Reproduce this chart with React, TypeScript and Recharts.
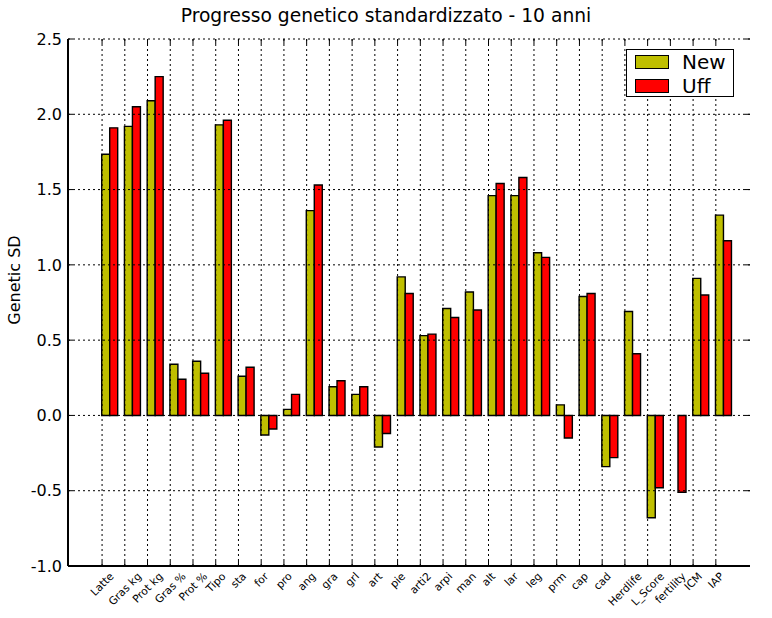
import React from 'react';
import { BarChart, Bar, XAxis, YAxis } from 'recharts';

const categories = [
  'Latte', 'Gras kg', 'Prot kg', 'Gras %', 'Prot %', 'Tipo', 'sta', 'for', 'pro', 'ang',
  'gra', 'grl', 'art', 'pie', 'arti2', 'arpi', 'man', 'alt', 'lar', 'leg',
  'prm', 'cap', 'cad', 'Herdlife', 'L_Score', 'fertility', 'ICM', 'IAP',
];

const newValues = [
  1.735, 1.92, 2.09, 0.34, 0.36, 1.93, 0.26, -0.13, 0.04, 1.36,
  0.19, 0.14, -0.21, 0.92, 0.53, 0.71, 0.82, 1.46, 1.46, 1.08,
  0.07, 0.79, -0.34, 0.69, -0.68, 0, 0.91, 1.33,
];

const uffValues = [
  1.91, 2.05, 2.25, 0.24, 0.28, 1.96, 0.32, -0.09, 0.14, 1.53,
  0.23, 0.19, -0.12, 0.81, 0.54, 0.65, 0.70, 1.54, 1.58, 1.05,
  -0.15, 0.81, -0.28, 0.41, -0.48, -0.51, 0.80, 1.16,
];

const yTicks = [-1.0, -0.5, 0.0, 0.5, 1.0, 1.5, 2.0, 2.5];

const data = categories.map((name, i) => ({ name, New: newValues[i], Uff: uffValues[i] }));

const W = 772;
const H = 618;
const PLOT_LEFT = 68;
const PLOT_RIGHT = 750;
const PLOT_TOP = 39;
const PLOT_BOTTOM = 566;
const BAR_SIZE = 8;
const FONT = 'DejaVu Sans, sans-serif';
const OLIVE = '#BFBF00';
const RED = '#FF0000';

let ctx: CanvasRenderingContext2D | null = null;
const measure = (text: string, size: number) => {
  if (!ctx) ctx = document.createElement('canvas').getContext('2d');
  if (!ctx) return text.length * size * 0.6;
  ctx.font = `${size}px DejaVu Sans`;
  return ctx.measureText(text).width;
};

const XTick = (props: any) => {
  const { x, payload } = props;
  const tx = x - BAR_SIZE;
  const size = 10.7;
  const L = measure(payload.value, size);
  const h = size * 1.15;
  const cy = PLOT_BOTTOM + 4 + (L + h) / (2 * Math.SQRT2);
  return (
    <g>
      <line x1={tx} x2={tx} y1={PLOT_TOP} y2={PLOT_BOTTOM} stroke="#000" strokeWidth={1} strokeDasharray="2 3" />
      <line x1={tx} x2={tx} y1={PLOT_BOTTOM} y2={PLOT_BOTTOM - 5} stroke="#000" strokeWidth={1} />
      <line x1={tx} x2={tx} y1={PLOT_TOP} y2={PLOT_TOP + 5} stroke="#000" strokeWidth={1} />
      <text
        x={tx}
        y={cy}
        dy="0.35em"
        textAnchor="middle"
        fontSize={size}
        fontFamily={FONT}
        fill="#000"
        transform={`rotate(-45 ${tx} ${cy})`}
      >
        {payload.value}
      </text>
    </g>
  );
};

const YTick = (props: any) => {
  const { y, payload } = props;
  return (
    <g>
      <line x1={PLOT_LEFT} x2={PLOT_RIGHT} y1={y} y2={y} stroke="#000" strokeWidth={1} strokeDasharray="2 3" />
      <line x1={PLOT_LEFT} x2={PLOT_LEFT + 5} y1={y} y2={y} stroke="#000" strokeWidth={1} />
      <line x1={PLOT_RIGHT} x2={PLOT_RIGHT - 5} y1={y} y2={y} stroke="#000" strokeWidth={1} />
      <text x={PLOT_LEFT - 6} y={y} dy="0.36em" textAnchor="end" fontSize={16} fontFamily={FONT} fill="#000">
        {Number(payload.value).toFixed(1)}
      </text>
    </g>
  );
};

const LegendBox = () => (
  <div
    style={{
      position: 'absolute',
      left: 626,
      top: 49,
      width: 106,
      height: 46,
      border: '1.5px solid #000',
      background: '#fff',
      fontFamily: FONT,
      fontSize: 20,
    }}
  >
    {[
      { label: 'New', color: OLIVE, top: 4 },
      { label: 'Uff', color: RED, top: 28 },
    ].map((item) => (
      <div key={item.label} style={{ position: 'absolute', left: 8, top: item.top, display: 'flex', alignItems: 'center', height: 16 }}>
        <div style={{ width: 32, height: 12, background: item.color, border: '1.5px solid #000' }} />
        <span style={{ marginLeft: 13, lineHeight: '16px' }}>{item.label}</span>
      </div>
    ))}
  </div>
);

export default function App() {
  return (
    <div style={{ position: 'absolute', left: 0, top: 0, width: W, height: H, background: '#fff' }}>
      <div
        style={{
          position: 'absolute',
          left: 0,
          top: 5,
          width: W,
          textAlign: 'center',
          fontFamily: FONT,
          fontSize: 18.7,
        }}
      >
        Progresso genetico standardizzato - 10 anni
      </div>
      <div
        style={{
          position: 'absolute',
          left: 14,
          top: 280,
          transform: 'translate(-50%, -50%) rotate(-90deg)',
          fontFamily: FONT,
          fontSize: 16,
          whiteSpace: 'nowrap',
        }}
      >
        Genetic SD
      </div>
      <BarChart
        width={W}
        height={H}
        data={data}
        margin={{ top: PLOT_TOP, right: W - PLOT_RIGHT, bottom: 0, left: 0 }}
        barGap={0}
        barSize={BAR_SIZE}
      >
        <Bar dataKey="New" fill={OLIVE} stroke="#000" strokeWidth={1.4} isAnimationActive={false} />
        <Bar dataKey="Uff" fill={RED} stroke="#000" strokeWidth={1.4} isAnimationActive={false} />
        <XAxis
          dataKey="name"
          interval={0}
          height={H - PLOT_BOTTOM}
          padding={{ left: 30.7, right: 14.8 }}
          tick={<XTick />}
          tickLine={false}
          axisLine={{ stroke: '#000', strokeWidth: 2 }}
        />
        <XAxis
          xAxisId="top"
          orientation="top"
          dataKey="name"
          height={0}
          tick={false}
          tickLine={false}
          axisLine={{ stroke: '#000', strokeWidth: 2 }}
        />
        <YAxis
          domain={[-1, 2.5]}
          ticks={yTicks}
          width={PLOT_LEFT}
          interval={0}
          tick={<YTick />}
          tickLine={false}
          axisLine={{ stroke: '#000', strokeWidth: 2 }}
          allowDataOverflow
        />
        <YAxis
          yAxisId="right"
          orientation="right"
          domain={[-1, 2.5]}
          width={0}
          tick={false}
          tickLine={false}
          axisLine={{ stroke: '#000', strokeWidth: 2 }}
        />
      </BarChart>
      <LegendBox />
    </div>
  );
}
